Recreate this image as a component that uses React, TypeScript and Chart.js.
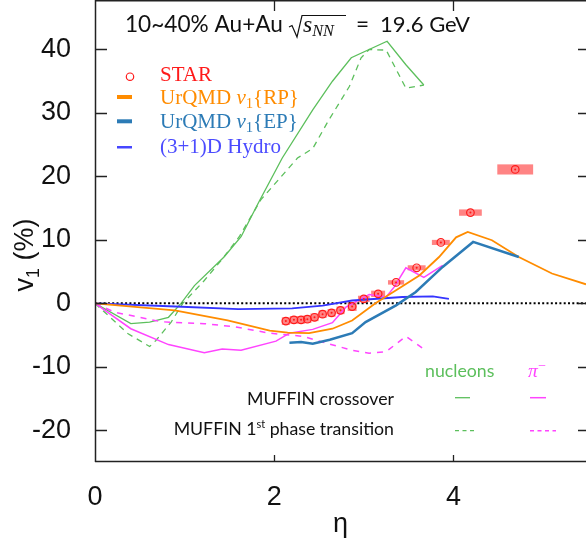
import React, { useEffect, useRef } from 'react';
import { Chart, registerables } from 'chart.js';
Chart.register(...registerables);

// ---------- data ----------
const xTickValues = [0, 2, 4];
const yTickValues = [-20, -10, 0, 10, 20, 30, 40];

const starEta = [2.13, 2.22, 2.30, 2.37, 2.45, 2.54, 2.64, 2.74, 2.87, 3.00, 3.16, 3.36, 3.59, 3.86, 4.19, 4.69];
const starV1 = [-2.8, -2.6, -2.6, -2.5, -2.2, -1.7, -1.5, -1.1, -0.5, 0.7, 1.5, 3.3, 5.6, 9.6, 14.3, 21.1];
const starSysEta = [0.045, 0.045, 0.045, 0.045, 0.045, 0.045, 0.045, 0.045, 0.05, 0.065, 0.078, 0.09, 0.1, 0.1, 0.127, 0.2];
const starSysV1 = [0.6, 0.6, 0.6, 0.6, 0.6, 0.6, 0.6, 0.6, 0.7, 0.5, 0.5, 0.35, 0.4, 0.4, 0.5, 0.8];

const urqmdRpEta = [0, 0.89, 1.48, 1.95, 2.15, 2.39, 2.65, 2.87, 3.13, 3.36, 3.62, 3.84, 4.03, 4.16, 4.43, 4.73, 5.10, 5.48];
const urqmdRpV1 = [0, -1.1, -2.7, -4.3, -4.6, -4.7, -4.0, -2.7, 0, 2.05, 4.4, 7.3, 10.4, 11.26, 9.95, 7.3, 4.7, 3.0];

const urqmdEpEta = [2.17, 2.30, 2.43, 2.62, 2.87, 3.02, 3.36, 3.58, 3.88, 4.22, 4.73];
const urqmdEpV1 = [-6.2, -6.1, -6.37, -5.74, -4.7, -2.95, -0.32, 1.79, 5.74, 9.68, 7.3];

const hydroEta = [0, 0.9, 1.6, 2.2, 2.54, 2.87, 3.43, 3.77, 3.95];
const hydroV1 = [0, -0.5, -0.9, -0.8, -0.35, 0.45, 1.0, 1.1, 0.7];

const nucCrossEta = [0, 0.40, 0.61, 0.82, 0.96, 1.11, 1.44, 1.63, 1.83, 2.09, 2.43, 2.65, 2.86, 3.26, 3.47, 3.67];
const nucCrossV1 = [0, -3.2, -2.95, -2.2, 0, 2.8, 7.3, 10.5, 16.0, 22.9, 30.5, 35.0, 38.7, 41.3, 37.6, 34.4];

const nucFirstEta = [0, 0.37, 0.61, 0.68, 0.85, 0.98, 1.22, 1.41, 1.61, 1.85, 2.08, 2.26, 2.43, 2.61, 2.84, 2.97, 3.06, 3.25, 3.47, 3.67];
const nucFirstV1 = [0, -4.8, -6.8, -5.85, -2.95, 0, 3.6, 6.8, 10.5, 16.3, 20.0, 22.9, 24.4, 28.9, 34.2, 38.7, 40.0, 39.9, 33.9, 34.4];

const pionCrossEta = [0, 0.40, 0.82, 1.22, 1.42, 1.63, 2.02, 2.17, 2.43, 2.65, 2.80, 3.06, 3.25, 3.34, 3.47, 3.67, 3.88];
const pionCrossV1 = [0, -4.0, -6.5, -7.8, -7.2, -7.4, -5.95, -4.7, -4.1, -3.05, -0.6, 1.4, 1.0, 2.6, 5.6, 4.1, 6.0];

const pionFirstEta = [0, 0.22, 0.74, 1.22, 1.56, 1.95, 2.32, 2.54, 2.87, 3.06, 3.25, 3.47, 3.67];
const pionFirstV1 = [0, -1.4, -2.9, -3.2, -3.7, -4.7, -5.2, -6.1, -7.4, -7.85, -7.6, -5.2, -7.2];

const zeroEta = [0, 5.48];
const zeroV1 = [0, 0];

// ---------- styles ----------
const C_GREEN = '#5cbf5c';
const C_MAG = '#ff44ff';
const C_ORANGE = '#ff8c00';
const C_BLUE = '#2c7bb6';
const C_HYDRO = '#3535ff';
const C_RED = '#ff1a1a';
const C_BOX = '#ff8484';
const AXIS = '#222222';

const SANS = '"Liberation Sans", Arial, sans-serif';
const LATO = 'Lato, "Open Sans", sans-serif';
const SERIF = '"Liberation Serif", "Times New Roman", serif';

const toPts = (xs: number[], ys: number[]) => xs.map((x, i) => ({ x, y: ys[i] }));

type Part = { t: string; font: string; color: string; dy?: number };
function drawParts(ctx: CanvasRenderingContext2D, x: number, y: number, parts: Part[], align: 'left' | 'right' | 'center' = 'left') {
  let total = 0;
  for (const p of parts) { ctx.font = p.font; total += ctx.measureText(p.t).width; }
  let cx = align === 'right' ? x - total : align === 'center' ? x - total / 2 : x;
  ctx.textAlign = 'left';
  ctx.textBaseline = 'alphabetic';
  for (const p of parts) {
    ctx.font = p.font;
    ctx.fillStyle = p.color;
    ctx.fillText(p.t, cx, y + (p.dy || 0));
    cx += ctx.measureText(p.t).width;
  }
  return total;
}
function fitSize(ctx: CanvasRenderingContext2D, text: string, style: string, family: string, target: number) {
  ctx.font = `${style} 100px ${family}`;
  const w = ctx.measureText(text).width;
  return (100 * target) / w;
}

const decorPlugin = {
  id: 'decor',
  beforeDatasetsDraw(chart: any) {
    const { ctx, scales } = chart;
    const xs = scales.x, ys = scales.y;
    // systematic boxes
    ctx.save();
    ctx.fillStyle = C_BOX;
    for (let i = 0; i < starEta.length; i++) {
      const x0 = xs.getPixelForValue(starEta[i] - starSysEta[i]);
      const x1 = xs.getPixelForValue(starEta[i] + starSysEta[i]);
      const y0 = ys.getPixelForValue(starV1[i] + starSysV1[i]);
      const y1 = ys.getPixelForValue(starV1[i] - starSysV1[i]);
      ctx.fillRect(x0, y0, x1 - x0, y1 - y0);
    }
    ctx.restore();
  },
  afterDraw(chart: any) {
    const { ctx, chartArea, scales } = chart;
    const xs = scales.x, ys = scales.y;
    const { left, right, top, bottom } = chartArea;
    ctx.save();
    // frame
    ctx.strokeStyle = AXIS;
    ctx.lineWidth = 1.5;
    ctx.beginPath();
    ctx.moveTo(left + 0.5, top);
    ctx.lineTo(left + 0.5, bottom);
    ctx.moveTo(left, bottom - 0.5);
    ctx.lineTo(right, bottom - 0.5);
    ctx.moveTo(left, top + 0.75);
    ctx.lineTo(right, top + 0.75);
    ctx.stroke();
    // inward ticks
    ctx.lineWidth = 1.3;
    ctx.beginPath();
    for (const v of yTickValues) {
      const y = Math.round(ys.getPixelForValue(v)) + 0.5;
      ctx.moveTo(left, y); ctx.lineTo(left + 12, y);
      ctx.moveTo(right, y); ctx.lineTo(right - 8, y);
    }
    for (const v of xTickValues) {
      if (v === 0) continue;
      const x = Math.round(xs.getPixelForValue(v)) + 0.5;
      ctx.moveTo(x, bottom); ctx.lineTo(x, bottom - 7);
      ctx.moveTo(x, top); ctx.lineTo(x, top + 11);
    }
    ctx.stroke();

    // y-axis title, rotated
    ctx.save();
    ctx.translate(24, 255);
    ctx.rotate(-Math.PI / 2);
    const yParts: Part[] = [
      { t: 'v', font: `27px ${SANS}`, color: '#111' },
      { t: '1', font: `18px ${SANS}`, color: '#111', dy: 6 },
      { t: ' (%)', font: `27px ${SANS}`, color: '#111' },
    ];
    drawParts(ctx, 0, 9, yParts, 'center');
    ctx.restore();

    // title
    const tSize = fitSize(ctx, '10~40% Au+Au', '', LATO, 158);
    const tFont = `${tSize}px ${LATO}`;
    drawParts(ctx, 125, 32, [{ t: '10~40% Au+Au', font: tFont, color: '#111' }]);
    // radical sign
    ctx.strokeStyle = '#111';
    ctx.lineWidth = 1.2;
    ctx.beginPath();
    ctx.moveTo(289, 27);
    ctx.lineTo(292, 25.5);
    ctx.lineTo(297, 37);
    ctx.lineTo(302, 15.5);
    ctx.lineTo(346, 15.5);
    ctx.stroke();
    drawParts(ctx, 303, 32, [
      { t: 's', font: `italic ${tSize * 1.05}px ${SERIF}`, color: '#111' },
      { t: 'NN', font: `italic ${tSize * 0.72}px ${SERIF}`, color: '#111', dy: 4 },
    ]);
    drawParts(ctx, 356, 32, [{ t: '=', font: tFont, color: '#111' }]);
    const gSize = fitSize(ctx, '19.6 GeV', '', LATO, 90);
    drawParts(ctx, 380, 32, [{ t: '19.6 GeV', font: `${gSize}px ${LATO}`, color: '#111' }]);

    // top-left legend
    const sSize = fitSize(ctx, 'STAR', '', SERIF, 52);
    const sFont = `${sSize}px ${SERIF}`;
    const siFont = `italic ${sSize}px ${SERIF}`;
    const ssFont = `${sSize * 0.7}px ${SERIF}`;
    ctx.strokeStyle = C_RED;
    ctx.lineWidth = 1.2;
    ctx.beginPath();
    ctx.arc(130, 76.7, 3.7, 0, Math.PI * 2);
    ctx.stroke();
    drawParts(ctx, 160, 81, [{ t: 'STAR', font: sFont, color: C_RED }]);
    ctx.fillStyle = C_ORANGE;
    ctx.fillRect(117, 95, 15, 4);
    drawParts(ctx, 160, 103.5, [
      { t: 'UrQMD ', font: sFont, color: C_ORANGE },
      { t: 'v', font: siFont, color: C_ORANGE },
      { t: '1', font: ssFont, color: C_ORANGE, dy: 4 },
      { t: '{RP}', font: sFont, color: C_ORANGE },
    ]);
    ctx.fillStyle = C_BLUE;
    ctx.fillRect(117, 119.3, 15, 4);
    drawParts(ctx, 160, 128.3, [
      { t: 'UrQMD ', font: sFont, color: C_BLUE },
      { t: 'v', font: siFont, color: C_BLUE },
      { t: '1', font: ssFont, color: C_BLUE, dy: 4 },
      { t: '{EP}', font: sFont, color: C_BLUE },
    ]);
    ctx.fillStyle = '#4646ff';
    ctx.fillRect(117, 146, 15, 2.5);
    drawParts(ctx, 160, 153, [{ t: '(3+1)D Hydro', font: sFont, color: '#4b4bff' }]);

    // bottom legend
    const mSize = fitSize(ctx, 'MUFFIN crossover', '', LATO, 147);
    const mFont = `${mSize}px ${LATO}`;
    drawParts(ctx, 425, 377, [{ t: 'nucleons', font: mFont, color: C_GREEN }]);
    drawParts(ctx, 528, 377, [
      { t: 'π', font: `italic ${mSize * 1.1}px ${SERIF}`, color: C_MAG },
      { t: '−', font: `${mSize * 0.8}px ${SERIF}`, color: C_MAG, dy: -7 },
    ]);
    drawParts(ctx, 394, 405, [{ t: 'MUFFIN crossover', font: mFont, color: '#111' }], 'right');
    drawParts(ctx, 394, 435, [
      { t: 'MUFFIN 1', font: mFont, color: '#111' },
      { t: 'st', font: `${mSize * 0.62}px ${LATO}`, color: '#111', dy: -7 },
      { t: ' phase transition', font: mFont, color: '#111' },
    ], 'right');
    // legend line samples
    ctx.lineWidth = 1.3;
    ctx.strokeStyle = C_GREEN;
    ctx.setLineDash([]);
    ctx.beginPath(); ctx.moveTo(455, 397.7); ctx.lineTo(470, 397.7); ctx.stroke();
    ctx.setLineDash([4, 3.5]);
    ctx.beginPath(); ctx.moveTo(455, 430.7); ctx.lineTo(476, 430.7); ctx.stroke();
    ctx.strokeStyle = C_MAG;
    ctx.lineWidth = 1.5;
    ctx.setLineDash([]);
    ctx.beginPath(); ctx.moveTo(530, 397.7); ctx.lineTo(546, 397.7); ctx.stroke();
    ctx.setLineDash([4, 3.5]);
    ctx.beginPath(); ctx.moveTo(530, 430.7); ctx.lineTo(556, 430.7); ctx.stroke();
    ctx.restore();
  },
};

const zeroPad = (s: any) => {
  s.paddingTop = 0;
  s.paddingBottom = 0;
  s.paddingLeft = 0;
  s.paddingRight = 0;
};

export default function App() {
  const ref = useRef<HTMLCanvasElement | null>(null);
  useEffect(() => {
    const canvas = ref.current;
    if (!canvas) return;
    const line = (label: string, xs: number[], ys: number[], color: string, width: number, dash: number[] = []) => ({
      type: 'line' as const,
      label,
      data: toPts(xs, ys),
      borderColor: color,
      backgroundColor: color,
      borderWidth: width,
      borderDash: dash,
      pointRadius: 0,
      tension: 0,
      fill: false,
      showLine: true,
    });
    const chart = new Chart(canvas, {
      type: 'scatter',
      data: {
        datasets: [
          {
            type: 'scatter',
            label: 'STAR center',
            data: toPts(starEta, starV1),
            pointRadius: 1,
            pointBackgroundColor: C_RED,
            pointBorderWidth: 0,
          } as any,
          {
            type: 'scatter',
            label: 'STAR',
            data: toPts(starEta, starV1),
            pointRadius: 3.8,
            pointBorderColor: C_RED,
            pointBackgroundColor: 'rgba(0,0,0,0)',
            pointBorderWidth: 1.2,
          } as any,
          line('UrQMD EP', urqmdEpEta, urqmdEpV1, C_BLUE, 2.5),
          line('UrQMD RP', urqmdRpEta, urqmdRpV1, C_ORANGE, 1.8),
          line('Hydro', hydroEta, hydroV1, C_HYDRO, 1.8),
          line('pi crossover', pionCrossEta, pionCrossV1, C_MAG, 1.5),
          line('pi 1st', pionFirstEta, pionFirstV1, C_MAG, 1.5, [6, 6]),
          line('nucleons crossover', nucCrossEta, nucCrossV1, C_GREEN, 1.3),
          line('nucleons 1st', nucFirstEta, nucFirstV1, C_GREEN, 1.3, [6, 5]),
          line('zero', zeroEta, zeroV1, '#000000', 2, [2, 2.3]),
        ] as any,
      },
      options: {
        responsive: false,
        animation: false,
        devicePixelRatio: 1,
        layout: { autoPadding: false, padding: { top: 0, right: 0, left: 0, bottom: 0 } },
        plugins: { legend: { display: false }, tooltip: { enabled: false } },
        events: [],
        scales: {
          x: {
            type: 'linear',
            min: 0,
            max: 5.48,
            grid: { display: false },
            border: { display: false },
            ticks: { font: { family: SANS, size: 27 }, color: '#111', padding: 11, maxRotation: 0 },
            afterBuildTicks: (s: any) => { s.ticks = xTickValues.map((v) => ({ value: v })); },
            afterFit: (s: any) => { s.height = 79; zeroPad(s); },
            title: { display: true, text: 'η', font: { family: SANS, size: 27 }, color: '#111', padding: { top: 0, bottom: 0 } },
          },
          y: {
            type: 'linear',
            min: -25,
            max: 47.8,
            grid: { display: false },
            border: { display: false },
            ticks: { font: { family: SANS, size: 27 }, color: '#111', padding: 16 },
            afterBuildTicks: (s: any) => { s.ticks = yTickValues.map((v) => ({ value: v })); },
            afterFit: (s: any) => { s.width = 95; zeroPad(s); },
          },
        },
      } as any,
      plugins: [decorPlugin],
    });
    return () => chart.destroy();
  }, []);
  return (
    <div style={{ position: 'absolute', left: 0, top: 0, width: 586, height: 541, background: '#fff' }}>
      <canvas ref={ref} width={586} height={541} style={{ display: 'block' }} />
    </div>
  );
}
